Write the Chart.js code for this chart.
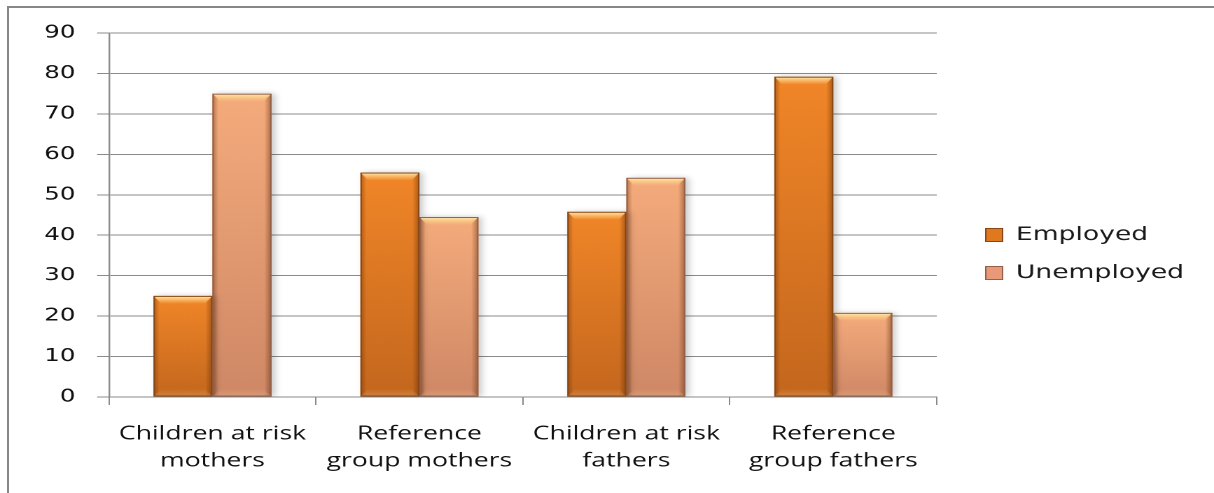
<!DOCTYPE html>
<html>
<head>
<meta charset="utf-8">
<script src="https://cdn.jsdelivr.net/npm/chart.js@4/dist/chart.umd.min.js"></script>
<style>
  html, body { margin: 0; padding: 0; background: #fff; overflow: hidden; }
  #frame {
    position: absolute; left: 7px; top: 6px; width: 1300px; height: 600px;
    border-left: 2.5px solid #878787; border-top: 2.5px solid #878787;
  }
  /* the chart is laid out narrow and stretched sideways */
  #wrap {
    position: absolute; left: 0; top: 0; width: 867px; height: 493px;
    transform: scaleX(1.40023); transform-origin: 0 0;
  }
</style>
</head>
<body>
<div id="frame"></div>
<div id="wrap"><canvas id="jobs"></canvas></div>
<script>
const groups = [
    ['Children at risk', 'mothers'],
    ['Reference', 'group mothers'],
    ['Children at risk', 'fathers'],
    ['Reference', 'group fathers']
];
const employed = [25, 55.5, 45.8, 79.2];
const unemployed = [75, 44.5, 54.2, 20.8];
const yTicks = [0, 10, 20, 30, 40, 50, 60, 70, 80, 90];

const edgeColors = ['#8a4712', '#95604a'];
const legendColors = ['#e0781f', '#e89a78'];

// vertical gradient per bar, from its top down to the zero line
function barFill(top, bottom) {
    return (c) => {
        if (c.type !== 'data') return top;
        const y = c.chart.scales.y;
        const y0 = y.getPixelForValue(c.raw);
        const y1 = y.getPixelForValue(0);
        if (!isFinite(y0) || !isFinite(y1)) return top;
        const g = c.chart.ctx.createLinearGradient(0, y0, 0, y1);
        g.addColorStop(0, top);
        g.addColorStop(1, bottom);
        return g;
    };
}

// soft shadow behind bars, then bevelled edges on top of them
const bevel = {
    id: 'bevel',
    beforeDatasetsDraw(chart) {
        const c = chart.ctx;
        c.save();
        c.shadowColor = 'rgba(0,0,0,0.22)';
        c.shadowBlur = 10;
        c.shadowOffsetX = 5;
    },
    afterDatasetsDraw(chart) {
        const c = chart.ctx;
        c.restore();
        chart.data.datasets.forEach((ds, di) => {
            chart.getDatasetMeta(di).data.forEach(bar => {
                const {x, y, base, width} = bar.getProps(['x', 'y', 'base', 'width'], true);
                const l = x - width / 2, r = x + width / 2, h = base - y;
                const bx = 5.5, by = 8;

                let g = c.createLinearGradient(l, 0, r, 0);
                g.addColorStop(0, 'rgba(90,40,5,0.45)');
                g.addColorStop(0.1, 'rgba(90,40,5,0.05)');
                g.addColorStop(0.88, 'rgba(90,40,5,0.05)');
                g.addColorStop(1, 'rgba(90,40,5,0.5)');
                c.fillStyle = g;
                c.fillRect(l, y, width, h);

                g = c.createLinearGradient(0, y, 0, y + by);
                g.addColorStop(0, 'rgba(255,240,185,1)');
                g.addColorStop(0.5, 'rgba(255,215,140,0.6)');
                g.addColorStop(1, 'rgba(255,215,140,0)');
                c.beginPath();
                c.moveTo(l, y); c.lineTo(r, y);
                c.lineTo(r - bx, y + by); c.lineTo(l + bx, y + by);
                c.closePath();
                c.fillStyle = g;
                c.fill();

                g = c.createLinearGradient(0, base - by, 0, base);
                g.addColorStop(0, 'rgba(255,210,170,0)');
                g.addColorStop(1, 'rgba(255,210,170,0.25)');
                c.beginPath();
                c.moveTo(l + bx, base - by); c.lineTo(r - bx, base - by);
                c.lineTo(r, base); c.lineTo(l, base);
                c.closePath();
                c.fillStyle = g;
                c.fill();

                c.strokeStyle = edgeColors[di];
                c.lineWidth = 1;
                c.strokeRect(l + 0.5, y + 0.5, width - 1, h - 1);
            });
        });
    }
};

// fixed legend column, items set in from the plot
const legendPlace = {
    id: 'legendPlace',
    afterInit(chart) {
        const legend = chart.legend;
        const fit = legend.fit;
        legend.fit = function () {
            fit.call(this);
            this.width = 198;
        };
    },
    afterLayout(chart) {
        const legend = chart.legend;
        legend.left += 16;
        legend.right += 16;
        legend.top -= 9;
        legend.bottom -= 9;
    }
};

const ctx = document.getElementById('jobs');
const jobsChart = new Chart(ctx, {
    type: 'bar',
    data: {
        labels: groups,
        datasets: [
            {
                label: 'Employed',
                data: employed,
                backgroundColor: barFill('#f98b2a', '#c96a1f'),
                borderWidth: 0,
                categoryPercentage: 0.57,
                barPercentage: 1.0
            },
            {
                label: 'Unemployed',
                data: unemployed,
                backgroundColor: barFill('#fdb282', '#d58d6b'),
                borderWidth: 0,
                categoryPercentage: 0.57,
                barPercentage: 1.0
            }
        ]
    },
    options: {
        animation: false,
        responsive: true,
        maintainAspectRatio: false,
        devicePixelRatio: 2,
        layout: {
            padding: { top: 33, left: 0, right: 0, bottom: 0 }
        },
        plugins: {
            legend: {
                display: true,
                position: 'right',
                align: 'center',
                labels: {
                    boxWidth: 12,
                    boxHeight: 13,
                    padding: 19,
                    color: '#1a1a1a',
                    font: { family: 'DejaVu Sans', size: 19 },
                    generateLabels(chart) {
                        const items = Chart.defaults.plugins.legend.labels.generateLabels(chart);
                        items.forEach((it, i) => {
                            it.fillStyle = legendColors[i];
                            it.strokeStyle = edgeColors[i];
                            it.lineWidth = 1;
                        });
                        return items;
                    }
                }
            },
            tooltip: { enabled: false }
        },
        scales: {
            x: {
                grid: {
                    display: true,
                    drawOnChartArea: false,
                    drawTicks: true,
                    tickLength: 8,
                    color: '#8a8a8a'
                },
                border: { display: true, color: '#8a8a8a', width: 1 },
                ticks: {
                    color: '#111',
                    padding: 15.5,
                    maxRotation: 0,
                    autoSkip: false,
                    font: { family: 'Open Sans', size: 19, lineHeight: 1.42 }
                },
                afterFit(scale) { scale.height = 96; }
            },
            y: {
                min: 0,
                max: 90,
                afterBuildTicks(scale) {
                    scale.ticks = yTicks.map(v => ({ value: v }));
                },
                grid: {
                    color: '#8a8a8a',
                    lineWidth: 1,
                    tickLength: 8.5
                },
                border: { display: true, color: '#8a8a8a', width: 1.2 },
                ticks: {
                    color: '#111',
                    padding: 15.5,
                    font: { family: 'DejaVu Sans', size: 17.5 }
                },
                afterFit(scale) { scale.width = 77.85; }
            }
        }
    },
    plugins: [bevel, legendPlace]
});
</script>
</body>
</html>
